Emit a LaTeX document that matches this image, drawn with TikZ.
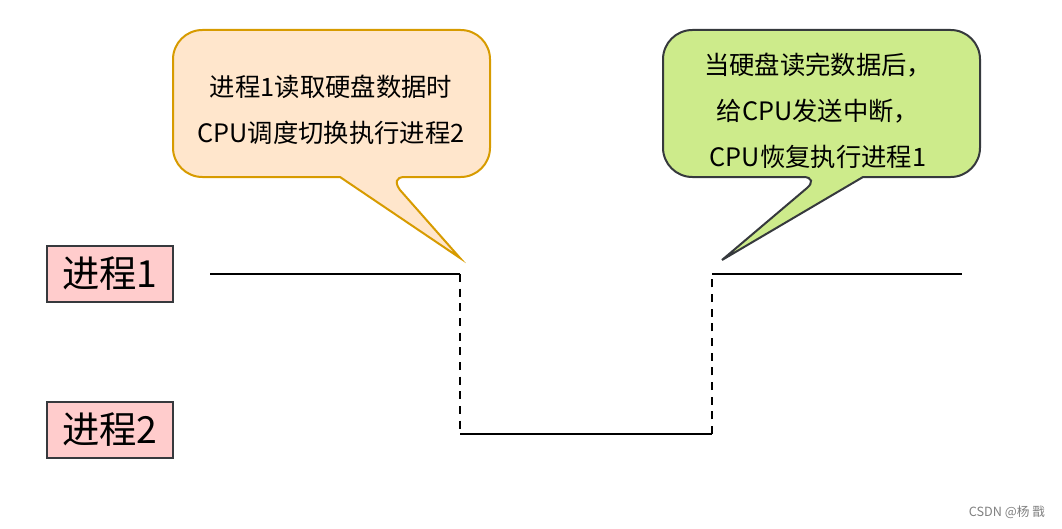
\documentclass[tikz,border=0pt]{standalone}
\usepackage{fontspec}
\setmainfont{Noto Sans CJK SC}
\usetikzlibrary{positioning}
\definecolor{noteorange}{HTML}{FFE6CC}
\definecolor{noteorangeline}{HTML}{D79B00}
\definecolor{notegreen}{HTML}{CDEB8B}
\definecolor{darkline}{HTML}{36393D}
\definecolor{procpink}{HTML}{FFCCCC}
\tikzset{
  procbox/.style={draw=darkline, line width=1.5pt, fill=procpink, inner sep=0pt,
    minimum width=94.5pt, minimum height=42pt, font=\fontsize{28}{30}\selectfont},
  notetext/.style={align=center, font=\fontsize{19}{34.5}\selectfont},
  timeline/.style={line width=1.5pt},
  waitline/.style={line width=1.5pt, dash pattern=on 6pt off 5pt}
}

\begin{document}
\begin{tikzpicture}[x=0.75pt, y=-0.75pt]
\useasboundingbox (0,0) rectangle (1062,528);

% ---------- callout 1: switch to process 2 ----------
\draw[line width=1.5pt, draw=noteorangeline, fill=noteorange]
  (300,177) -- (340,177) -- (460,258) -- (400,190)
  .. controls (395,183) and (395,177) .. (405,177)
  [rounded corners=22pt] -- (490,177) -- (490,30) -- (173,30) -- (173,177) -- cycle;
\node[notetext] (note1) at (331,110) {进程1读取硬盘数据时\\CPU调度切换执行进程2};

% ---------- callout 2: interrupt, back to process 1 ----------
\draw[line width=1.5pt, draw=darkline, fill=notegreen]
  (900,177) -- (863,177) -- (722,260) -- (807,188)
  .. controls (813,183) and (813,177) .. (803,177)
  [rounded corners=22pt] -- (663,177) -- (663,30) -- (980,30) -- (980,177) -- cycle;
\node[notetext] (note2) at (818,111) {当硬盘读完数据后，\\给CPU发送中断，\\CPU恢复执行进程1};

% ---------- process labels ----------
\node[procbox] (proc1) at (110,274) {进程1};
\node[procbox] (proc2) at (110,430) {进程2};

% ---------- execution timeline ----------
\coordinate (run1start) at (210,274);
\coordinate (run1stop)  at (460,274);
\coordinate (run2start) at (460,434);
\coordinate (run2stop)  at (712,434);
\coordinate (run1back)  at (712,274);
\coordinate (run1end)   at (962,274);

\draw[timeline] (run1start) -- (run1stop);
\draw[waitline] (run1stop) -- (run2start);
\draw[timeline] (run2start) -- (run2stop);
\draw[waitline] (run2stop) -- (run1back);
\draw[timeline] (run1back) -- (run1end);

\node[text=gray, font=\fontsize{9.5}{11}\selectfont] (mark) at (1007,512) {CSDN @杨 戬};
\end{tikzpicture}
\end{document}
